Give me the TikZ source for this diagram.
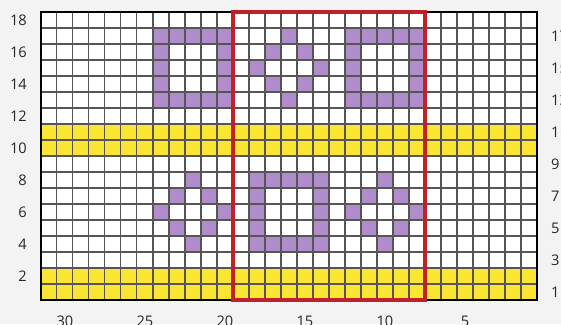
\documentclass[tikz,border=0pt]{standalone}
\usepackage{fontspec}
\setmainfont{Open Sans}
\definecolor{lilac}{RGB}{176,141,202}
\definecolor{canary}{RGB}{249,229,50}
\definecolor{chartred}{RGB}{192,32,38}
\definecolor{gridgray}{RGB}{85,85,85}
\definecolor{paper}{RGB}{243,243,243}
\tikzset{
  cell/.style = {fill=lilac},
  band/.style = {fill=canary},
  gl/.style = {draw=gridgray, line width=0.9pt},
  frame/.style = {draw=black, line width=2.6pt},
  zone/.style = {draw=chartred, line width=3.2pt},
  num/.style = {font=\fontsize{13}{15}\selectfont, inner sep=0pt, text=black!85}
}
\newcommand{\stitch}[2]{\fill[cell] (#1-1,#2-1) rectangle (#1,#2);}
\newcommand{\ring}[2]{\fill[cell, even odd rule] (#1,#2) rectangle ++(5,5)
  (#1+1,#2+1) rectangle ++(3,3);}
\newcommand{\motif}[2]{%
  \foreach \dc/\dr in {0/2, -1/1, 1/1, -2/0, 2/0, -1/-1, 1/-1, 0/-2}
    {\stitch{#1+\dc}{#2+\dr}}}

\begin{document}
\begin{tikzpicture}[x=-0.5cm, y=0.5cm]
  \useasboundingbox [fill=paper] (-1.5,-1.5) rectangle (33.5625,18.75);
  \fill[white] (0,0) rectangle (31,18);
  \fill[band] (0,0) rectangle (31,2);
  \fill[band] (0,9) rectangle (31,11);
  \ring{19}{12}
  \ring{7}{12}
  \ring{13}{3}
  \motif{16}{15}
  \motif{22}{6}
  \motif{10}{6}
  \foreach \c in {1,...,30}
    \draw[gl] (\c,0) -- (\c,18);
  \foreach \r in {1,...,17}
    \draw[gl] (0,\r) -- (31,\r);
  \draw[frame] (0,0) rectangle (31,18);
  \draw[zone] (7,0) rectangle (19,18);
  \foreach \r in {2,4,...,18}
    \node[num, anchor=east] (l\r) at (31.875,\r-0.5) {\r};
  \foreach \r in {1,3,...,17}
    \node[num, anchor=west] (r\r) at (-0.875,\r-0.5) {\r};
  \foreach \c in {5,10,...,30}
    \node[num, anchor=north] (b\c) at (\c-0.5,-0.98) {\c};
\end{tikzpicture}
\end{document}
